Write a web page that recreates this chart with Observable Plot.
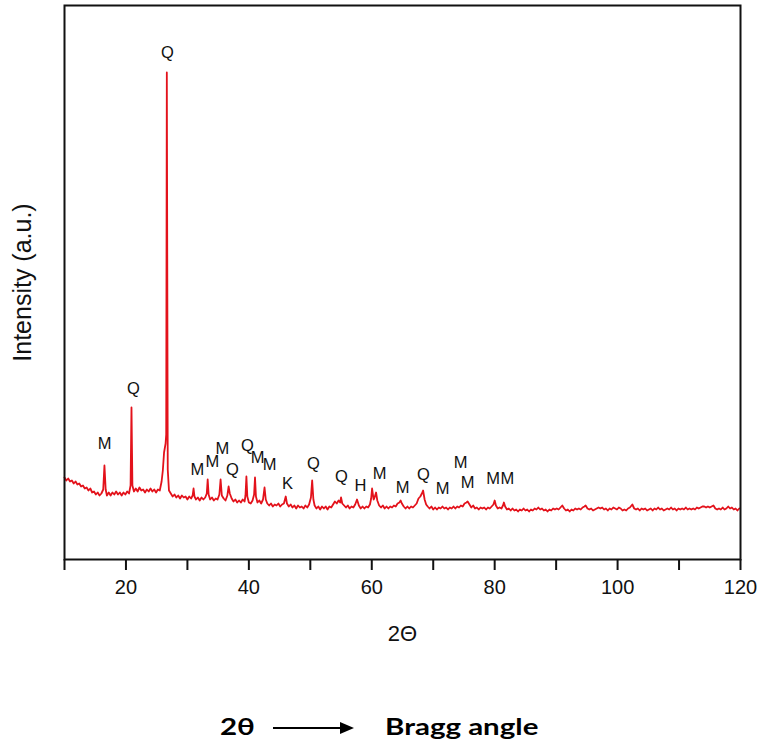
<!DOCTYPE html>
<html><head><meta charset="utf-8">
<script src="https://cdn.jsdelivr.net/npm/d3@7"></script>
<script src="https://cdn.jsdelivr.net/npm/@observablehq/plot@0.6"></script>
<style>
body{margin:0;background:#fff;width:761px;height:748px;position:relative;overflow:hidden;font-family:"Liberation Sans",Arial,sans-serif}
#chart{position:absolute;left:0;top:0}
.cap{position:absolute;font-family:Lato,"Open Sans",sans-serif;font-weight:700;font-size:22px;color:#000;line-height:1;white-space:nowrap;transform-origin:0 50%;transform:scaleX(1.34)}
</style></head><body>
<div id="chart"></div>
<div class="cap" style="left:220px;top:716px">2θ</div>
<svg style="position:absolute;left:272px;top:720px" width="84" height="16"><line x1="1" y1="8" x2="70" y2="8" stroke="#000" stroke-width="2"/><polygon points="68,2 82,8 68,14" fill="#000"/></svg>
<div class="cap" style="left:385px;top:716px">Bragg angle</div>
<script>
const twoTheta = [10.0,10.3,10.6,10.9,11.2,11.5,11.8,12.1,12.4,12.7,13.0,13.3,13.6,13.9,14.2,14.5,14.8,15.1,15.4,15.7,16.0,16.3,16.5,16.7,16.9,17.2,17.5,17.8,18.1,18.4,18.7,19.0,19.3,19.6,19.9,20.2,20.5,20.75,20.9,21.05,21.3,21.6,21.9,22.2,22.5,22.8,23.1,23.4,23.7,24.0,24.3,24.6,24.9,25.2,25.5,25.8,26.0,26.2,26.45,26.55,26.65,26.8,27.0,27.3,27.6,27.9,28.2,28.5,28.8,29.1,29.4,29.7,30.0,30.3,30.6,30.85,31.0,31.15,31.4,31.7,32.0,32.3,32.6,32.9,33.15,33.3,33.45,33.7,34.0,34.3,34.6,34.9,35.2,35.4,35.6,35.9,36.2,36.5,36.7,36.9,37.2,37.5,37.8,38.1,38.4,38.7,39.0,39.3,39.45,39.6,39.75,40.0,40.3,40.6,40.85,41.0,41.15,41.4,41.7,42.0,42.3,42.55,42.75,43.0,43.3,43.6,43.9,44.2,44.5,44.8,45.1,45.4,45.7,46.0,46.2,46.5,46.8,47.1,47.4,47.7,48.0,48.3,48.6,48.9,49.2,49.5,49.8,50.1,50.3,50.5,50.7,51.0,51.3,51.6,51.9,52.2,52.5,52.8,53.1,53.4,53.7,54.0,54.3,54.6,54.85,55.0,55.2,55.5,55.8,56.1,56.4,56.7,57.0,57.3,57.6,57.9,58.2,58.5,58.8,59.1,59.4,59.7,59.9,60.05,60.3,60.45,60.7,60.9,61.2,61.5,61.8,62.1,62.4,62.7,63.0,63.3,63.6,63.9,64.2,64.5,64.7,64.9,65.2,65.5,65.8,66.1,66.4,66.7,67.0,67.3,67.6,67.9,68.15,68.35,68.6,68.85,69.1,69.4,69.7,70.0,70.3,70.6,70.9,71.2,71.5,71.8,72.1,72.4,72.7,73.0,73.3,73.6,73.9,74.2,74.5,74.8,75.1,75.4,75.6,75.9,76.2,76.5,76.8,77.1,77.4,77.7,78.0,78.3,78.6,78.9,79.2,79.5,79.8,80.0,80.2,80.5,80.8,81.1,81.35,81.5,81.7,82.0,82.3,82.6,82.9,83.2,83.5,83.8,84.1,84.4,84.7,85.0,85.3,85.6,85.9,86.2,86.5,86.8,87.1,87.4,87.7,88.0,88.3,88.6,88.9,89.2,89.5,89.8,90.1,90.4,90.7,91.0,91.3,91.6,91.9,92.2,92.5,92.8,93.1,93.4,93.7,94.0,94.3,94.6,94.8,95.1,95.4,95.7,96.0,96.3,96.6,96.9,97.2,97.5,97.8,98.1,98.4,98.7,99.0,99.3,99.6,99.9,100.2,100.5,100.8,101.1,101.4,101.7,102.0,102.4,102.7,103.0,103.3,103.6,103.9,104.2,104.5,104.8,105.1,105.4,105.7,106.0,106.3,106.6,106.9,107.2,107.5,107.8,108.1,108.4,108.7,109.0,109.3,109.6,109.9,110.2,110.5,110.8,111.1,111.4,111.7,112.0,112.3,112.6,112.9,113.2,113.5,113.8,114.1,114.4,114.7,115.0,115.3,115.6,115.9,116.2,116.5,116.8,117.1,117.4,117.7,118.0,118.3,118.6,118.9,119.2,119.5,119.8];
const intensity = [82,79,81,78,79,76,78,75,76,73,74,71,72,69,71,67,68,65,67,64,66,70,94,70,64,67,64,67,65,68,65,67,64,67,65,68,66,74,152,74,68,71,68,72,69,70,67,70,68,71,68,70,67,70,69,78,89,107,116,125,487,90,69,66,63,65,62,64,61,64,62,63,60,63,61,64,71,63,60,62,59,62,60,62,66,80,65,60,62,59,61,60,65,80,64,61,59,64,73,66,61,58,60,57,59,57,60,58,64,83,63,57,56,59,65,82,63,57,59,56,60,72,60,56,54,56,53,55,54,56,53,55,56,63,56,53,55,52,54,51,54,52,53,51,54,52,55,62,79,60,54,51,53,50,53,51,53,50,53,52,55,58,56,59,57,62,56,54,52,54,51,53,52,55,60,54,51,53,51,53,52,55,61,71,60,62,67,59,54,52,54,51,53,51,53,52,54,53,56,57,59,56,53,51,53,51,53,52,54,56,61,63,66,69,60,55,53,51,53,50,52,50,52,51,53,51,52,50,52,51,53,51,53,52,54,53,56,57,58,55,52,54,51,52,50,52,51,52,50,52,51,53,55,59,54,51,52,51,54,57,53,50,51,49,51,49,50,48,50,49,51,49,50,48,50,49,51,50,52,50,51,49,50,48,50,49,51,50,51,50,52,54,51,49,50,48,50,49,51,50,51,50,52,53,54,51,50,51,49,50,51,52,51,52,50,51,49,51,50,52,51,50,52,51,49,50,49,51,52,55,51,50,51,49,51,50,51,49,50,51,49,51,50,52,50,51,49,50,51,50,52,50,51,49,51,50,51,50,52,50,51,50,51,50,52,51,52,53,53,52,53,52,53,54,51,50,51,50,52,50,51,53,51,52,50,51,49,51];
const peakLabels = ["Q","Q","M","M","M","M","Q","Q","M","M","K","Q","Q","H","M","M","Q","M","M","M","M","M"];
const peakX = [26.76,21.23,16.51,31.64,34.08,35.71,37.34,39.78,41.41,43.36,46.29,50.52,55.07,58.17,61.26,65.0,68.42,71.51,74.44,75.58,79.75,82.05];
const peakY = [507,171,116,90,98,111,90,114,102,95,76,96,83,74,86,72,85,71,97,77,81,81];
const xTicks = [10,20,30,40,50,60,70,80,90,100,110,120];
const xTickLabels = ["","20","","40","","60","","80","","100","","120"];

const data = twoTheta.map((x, i) => ({x, y: intensity[i]}));
const labels = peakLabels.map((t, i) => ({t, x: peakX[i], y: peakY[i]}));

const chart = Plot.plot({
  width: 761, height: 660,
  marginLeft: 64, marginRight: 21, marginTop: 5, marginBottom: 101,
  style: {fontFamily: "Liberation Sans, Arial, sans-serif", background: "white", color: "#111"},
  x: {domain: [10, 120]},
  y: {domain: [0, 554]},
  marks: [
    Plot.line(data, {x: "x", y: "y", stroke: "#e3121b", strokeWidth: 1.8}),
    Plot.text(labels, {x: "x", y: "y", text: "t", fontSize: 16.5, fill: "#111"}),
    Plot.axisX(xTicks, {tickSize: 11, tickPadding: 9, strokeWidth: 2, fontSize: 20, tickFormat: d => xTickLabels[xTicks.indexOf(d)], label: null}),
    Plot.axisY({ticks: [], label: null}),
    Plot.frame({stroke: "#111", strokeWidth: 2}),
    Plot.text(["2Θ"], {frameAnchor: "bottom", lineAnchor: "middle", dy: 74, fontSize: 22, fill: "#111"}),
    Plot.text(["Intensity (a.u.)"], {frameAnchor: "left", textAnchor: "middle", lineAnchor: "middle", rotate: -90, dx: -42, fontSize: 25, fill: "#111"})
  ]
});
document.getElementById("chart").appendChild(chart);
</script>
</body></html>
